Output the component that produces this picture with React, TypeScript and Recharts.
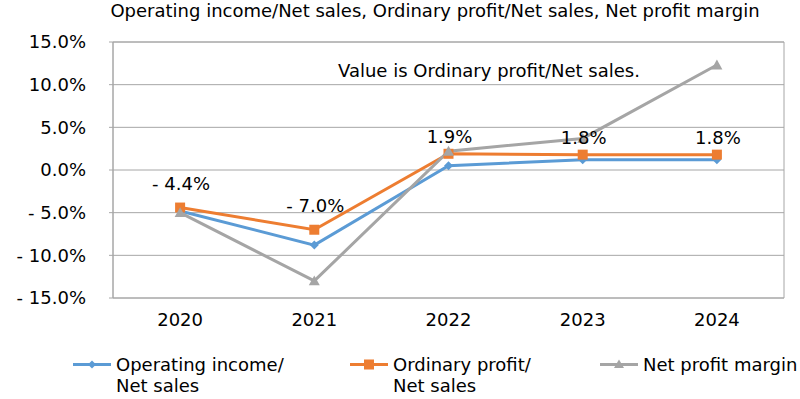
import React from 'react';
import { LineChart, Line, XAxis, YAxis, CartesianGrid, ReferenceArea, LabelList, Legend } from 'recharts';

const years = ['2020', '2021', '2022', '2023', '2024'];
const operatingIncome = [-4.8, -8.8, 0.5, 1.2, 1.2];
const ordinaryProfit = [-4.4, -7.0, 1.9, 1.8, 1.8];
const netProfitMargin = [-5.0, -13.0, 2.2, 3.7, 12.3];
const yTicks = [-15, -10, -5, 0, 5, 10, 15];

const seriesNames = ['Operating income/\nNet sales', 'Ordinary profit/\nNet sales', 'Net profit margin'];
const colors = ['#5B9BD5', '#ED7D31', '#A5A5A5'];

const data = years.map((y, i) => ({
  year: y,
  op: operatingIncome[i],
  ord: ordinaryProfit[i],
  net: netProfitMargin[i],
}));

const fmt = (v: number) => (v < 0 ? `- ${Math.abs(v).toFixed(1)}%` : `${v.toFixed(1)}%`);
const FONT = '"DejaVu Sans", Verdana, sans-serif';

const Diamond = (props: any) => {
  const { cx, cy } = props;
  if (cx == null || cy == null) return null;
  const s = 4.5;
  return <path d={`M${cx},${cy - s}L${cx + s},${cy}L${cx},${cy + s}L${cx - s},${cy}Z`} fill={colors[0]} />;
};
const Square = (props: any) => {
  const { cx, cy } = props;
  if (cx == null || cy == null) return null;
  const s = 5;
  return <rect x={cx - s} y={cy - s} width={2 * s} height={2 * s} fill={colors[1]} />;
};
const Triangle = (props: any) => {
  const { cx, cy } = props;
  if (cx == null || cy == null) return null;
  const s = 5.5;
  return <path d={`M${cx},${cy - s}L${cx + s},${cy + s * 0.8}L${cx - s},${cy + s * 0.8}Z`} fill={colors[2]} />;
};

const OrdLabel = (props: any) => {
  const { x, y, value } = props;
  const off = value < 0 ? 24 : 17;
  return (
    <text x={x + 1} y={y - off} textAnchor="middle" dominantBaseline="central" fontSize={18} fontFamily={FONT} fill="#000">
      {fmt(value)}
    </text>
  );
};

const markerFor = (i: number) => {
  if (i === 0) return <path d="M19,6.5L23,10.5L19,14.5L15,10.5Z" fill={colors[0]} />;
  if (i === 1) return <rect x={14} y={5.5} width={10} height={10} fill={colors[1]} />;
  return <path d="M19,5.5L24,14L14,14Z" fill={colors[2]} />;
};

const legendLeft = [73, 350, 600];

const CustomLegend = () => (
  <div style={{ position: 'relative', width: 800, height: 50 }}>
    {seriesNames.map((name, i) => (
      <div key={i} style={{ position: 'absolute', left: legendLeft[i], top: 0, display: 'flex', alignItems: 'flex-start' }}>
        <svg width={38} height={21} style={{ flex: 'none' }}>
          <line x1={0} y1={10.5} x2={38} y2={10.5} stroke={colors[i]} strokeWidth={3} />
          {markerFor(i)}
        </svg>
        <div style={{ marginLeft: 5, fontFamily: FONT, fontSize: 18, lineHeight: '21px', color: '#000', whiteSpace: 'pre' }}>
          {name}
        </div>
      </div>
    ))}
  </div>
);

export default function App() {
  return (
    <div style={{ position: 'absolute', left: 0, top: 0, width: 800, height: 399, background: '#fff' }}>
      <div style={{ position: 'absolute', left: 0, top: 0, width: 870, textAlign: 'center', fontFamily: FONT, fontSize: 18, color: '#000', whiteSpace: 'nowrap' }}>
        Operating income/Net sales, Ordinary profit/Net sales, Net profit margin
      </div>
      <LineChart width={800} height={399} data={data} margin={{ top: 42, right: 16, bottom: 71, left: 0 }}>
        <CartesianGrid vertical={false} stroke="#a6a6a6" strokeWidth={1} />
        <ReferenceArea y1={-15} y2={15} fill="none" stroke="#a6a6a6" strokeWidth={1} ifOverflow="visible" />
        <XAxis
          dataKey="year"
          scale="band"
          axisLine={false}
          tickLine={false}
          tickSize={0}
          tickMargin={15}
          tick={{ fontSize: 18, fontFamily: FONT, fill: '#000' }}
          height={30}
        />
        <YAxis
          domain={[-15, 15]}
          ticks={yTicks}
          width={113}
          axisLine={{ stroke: '#a6a6a6' }}
          tickLine={{ stroke: '#a6a6a6' }}
          tickSize={4}
          tickMargin={23}
          tickFormatter={fmt}
          tick={{ fontSize: 18, fontFamily: FONT, fill: '#000' }}
          interval={0}
        />
        <Legend verticalAlign="middle" layout="horizontal" align="center" content={CustomLegend} wrapperStyle={{ top: 354, left: 0, width: 800 }} />
        <Line dataKey="op" stroke={colors[0]} strokeWidth={3} dot={<Diamond />} activeDot={false} isAnimationActive={false} />
        <Line dataKey="ord" stroke={colors[1]} strokeWidth={3} dot={<Square />} activeDot={false} isAnimationActive={false}>
          <LabelList dataKey="ord" content={OrdLabel} />
        </Line>
        <Line dataKey="net" stroke={colors[2]} strokeWidth={3} dot={<Triangle />} activeDot={false} isAnimationActive={false} />
      </LineChart>
      <div style={{ position: 'absolute', left: 338, top: 60, fontFamily: FONT, fontSize: 18, color: '#000', whiteSpace: 'nowrap' }}>
        Value is Ordinary profit/Net sales.
      </div>
    </div>
  );
}
